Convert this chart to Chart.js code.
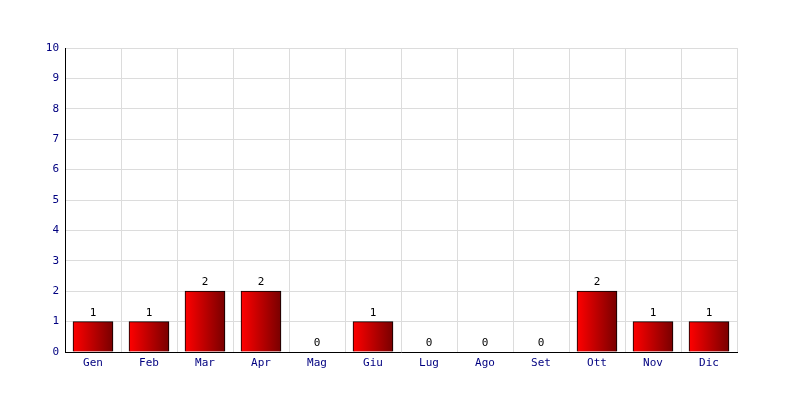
<!DOCTYPE html>
<html><head><meta charset="utf-8">
<script src="https://cdn.jsdelivr.net/npm/chart.js@4"></script>
<style>html,body{margin:0;padding:0;background:#fff}#wrap{width:800px;height:400px}</style>
</head><body><div id="wrap"><canvas id="c" width="800" height="400"></canvas></div>
<script>
const months = ["Gen","Feb","Mar","Apr","Mag","Giu","Lug","Ago","Set","Ott","Nov","Dic"];
const counts = [1,1,2,2,0,1,0,0,0,2,1,1];
const yMin = 0, yMax = 10, yStep = 1;

const FONT = "'DejaVu Sans Mono', monospace";

function barGradient(ctx){
  const chart = ctx.chart;
  if(!chart.chartArea || ctx.type !== 'data') return '#e00000';
  const xs = chart.scales.x;
  const cx = xs.getPixelForValue(ctx.dataIndex);
  const half = 20;
  const g = chart.ctx.createLinearGradient(cx - half, 0, cx + half, 0);
  g.addColorStop(0, '#ff0000');
  g.addColorStop(1, '#780000');
  return g;
}

const valueLabels = {
  id: 'valueLabels',
  afterDatasetsDraw(chart){
    const c = chart.ctx;
    const meta = chart.getDatasetMeta(0);
    c.save();
    c.font = "11px " + FONT;
    c.fillStyle = '#000';
    c.textAlign = 'center';
    c.textBaseline = 'alphabetic';
    meta.data.forEach((el, i) => {
      c.fillText(String(counts[i]), el.x, Math.round(el.y) - 6);
    });
    c.restore();
  }
};

new Chart(document.getElementById('c'), {
  type: 'bar',
  data: {
    labels: months,
    datasets: [{
      data: counts,
      backgroundColor: barGradient,
      borderColor: '#000',
      borderWidth: 1,
      borderSkipped: 'bottom',
      barThickness: 40
    }]
  },
  options: {
    responsive: false,
    animation: false,
    layout: { padding: { top: 48, right: 63, left: 0, bottom: 0 } },
    plugins: { legend: { display: false }, tooltip: { enabled: false } },
    scales: {
      x: {
        grid: { color: '#dcdcdc', drawTicks: false, offset: true },
        border: { color: '#000', width: 1 },
        ticks: { color: '#000080', font: { family: FONT, size: 11 }, padding: 5 },
        afterFit(s){ s.height = 48; }
      },
      y: {
        min: yMin, max: yMax,
        grid: { color: '#dcdcdc', drawTicks: false },
        border: { color: '#000', width: 1 },
        ticks: { stepSize: yStep, color: '#000080', font: { family: FONT, size: 11 }, padding: 6 },
        afterFit(s){ s.width = 65; }
      }
    }
  },
  plugins: [valueLabels]
});
</script>
</body></html>
